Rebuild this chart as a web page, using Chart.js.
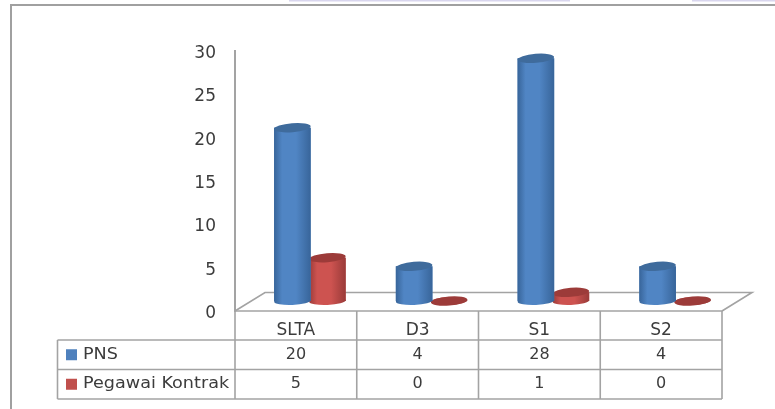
<!DOCTYPE html>
<html>
<head>
<meta charset="utf-8">
<title>PNS dan Pegawai Kontrak</title>
<script src="https://cdn.jsdelivr.net/npm/chart.js@4"></script>
<style>
	html, body { margin: 0; padding: 0; background: #fff; overflow: hidden; }
	canvas { display: block; filter: blur(0.4px); }
</style>
</head>
<body>
<canvas id="myChart" width="775" height="409"></canvas>
<script>
var categories = ['SLTA', 'D3', 'S1', 'S2'];
var pnsValues = [20, 4, 28, 4];
var kontrakValues = [5, 0, 1, 0];
var seriesNames = ['PNS', 'Pegawai Kontrak'];

var lineColor = '#a3a3a3';
var textColor = '#3c3c3c';
var fontName = '"DejaVu Sans", sans-serif';
var shades = [
	{ edge: '#38659a', mid: '#5085c4', top: '#3f6b9c', flat: '#4f81bd' },
	{ edge: '#9a3b39', mid: '#cd5350', top: '#9c3b39', flat: '#c0504d' }
];

function line(ctx, x1, y1, x2, y2)
{
	ctx.beginPath();
	ctx.moveTo(x1, y1);
	ctx.lineTo(x2, y2);
	ctx.stroke();
}

// the page border and floor of the 3d plot
var backdrop = {
	id: 'backdrop',
	beforeDatasetsDraw: function(chart) {
		var ctx = chart.ctx, a = chart.chartArea;
		ctx.save();
		ctx.fillStyle = '#d9d6ee';
		ctx.fillRect(289, 0, 281, 1.5);
		ctx.fillRect(692, 0, 83, 1.5);
		ctx.strokeStyle = '#a0a0a0';
		ctx.lineWidth = 2;
		line(ctx, 10, 5, 775, 5);
		line(ctx, 11, 5, 11, 409);
		ctx.strokeStyle = lineColor;
		ctx.lineWidth = 1.6;
		ctx.beginPath();
		ctx.moveTo(a.left, a.bottom);
		ctx.lineTo(a.left + 30, a.bottom - 18.5);
		ctx.lineTo(a.right + 30, a.bottom - 18.5);
		ctx.lineTo(a.right, a.bottom);
		ctx.stroke();
		ctx.restore();
		// bars stand on the floor, so shift them back into the depth
		ctx.save();
		ctx.translate(14, -10);
	},
	afterDatasetDraw: function(chart, args) {
		var ctx = chart.ctx, s = shades[args.index];
		args.meta.data.forEach(function(bar) {
			var left = bar.x - bar.width / 2, right = bar.x + bar.width / 2;
			var g = ctx.createLinearGradient(left, 0, right, 0);
			g.addColorStop(0, s.edge);
			g.addColorStop(0.22, s.mid);
			g.addColorStop(0.6, s.mid);
			g.addColorStop(1, s.edge);
			ctx.fillStyle = g;
			ctx.beginPath();
			ctx.ellipse(bar.x, bar.base, bar.width / 2, 4, -0.04, 0, Math.PI * 2);
			ctx.fill();
			ctx.fillRect(left, bar.y, bar.width, bar.base - bar.y);
			ctx.fillStyle = s.top;
			ctx.beginPath();
			ctx.ellipse(bar.x, bar.y, bar.width / 2, 4.5, -0.08, 0, Math.PI * 2);
			ctx.fill();
		});
	},
	afterDatasetsDraw: function(chart) {
		chart.ctx.restore();
	}
};

// data table under the plot, the x axis gives the column positions
var dataTable = {
	id: 'dataTable',
	afterDraw: function(chart) {
		var ctx = chart.ctx, a = chart.chartArea, x = chart.scales.x;
		var rows = [340, 369.5, 399];
		var tableLeft = 57.5;
		var step = (a.right - a.left) / categories.length;
		var i;
		ctx.save();
		ctx.strokeStyle = lineColor;
		ctx.lineWidth = 1.6;
		line(ctx, a.left, a.bottom, a.right, a.bottom);
		rows.forEach(function(y) { line(ctx, tableLeft, y, a.right, y); });
		line(ctx, tableLeft, rows[0], tableLeft, rows[2]);
		for (i = 0; i <= categories.length; i++) {
			line(ctx, a.left + step * i, a.bottom, a.left + step * i, rows[2]);
		}
		ctx.font = '16px ' + fontName;
		ctx.fillStyle = textColor;
		ctx.textBaseline = 'middle';
		[pnsValues, kontrakValues].forEach(function(values, r) {
			var mid = (rows[r] + rows[r + 1]) / 2;
			ctx.textAlign = 'left';
			ctx.fillStyle = shades[r].flat;
			ctx.fillRect(66, mid - 5.5, 11, 11);
			ctx.fillStyle = textColor;
			// names are a little wider in the picture than the font
			ctx.save();
			ctx.translate(83, mid);
			ctx.scale(1.1, 1);
			ctx.fillText(seriesNames[r], 0, 0);
			ctx.restore();
			ctx.textAlign = 'center';
			values.forEach(function(v, c) {
				ctx.fillText(String(v), x.getPixelForTick(c), mid);
			});
		});
		ctx.restore();
	}
};

var ctx = document.getElementById('myChart').getContext('2d');
var myChart = new Chart(ctx, {
	type: 'bar',
	data: {
		labels: categories,
		datasets: [{
			label: seriesNames[0],
			data: pnsValues,
			backgroundColor: shades[0].flat,
			clip: false
		}, {
			label: seriesNames[1],
			data: kontrakValues,
			backgroundColor: shades[1].flat,
			clip: false
		}]
	},
	options: {
		responsive: false,
		animation: false,
		categoryPercentage: 0.575,
		barPercentage: 1.045,
		layout: { padding: { top: 51, right: 53, left: 0, bottom: 0 } },
		plugins: {
			legend: { display: false },
			title: { display: false },
			tooltip: { enabled: false }
		},
		scales: {
			x: {
				grid: { display: false, drawTicks: false },
				border: { display: false },
				ticks: {
					color: textColor,
					font: { family: fontName, size: 17 },
					padding: 9,
					maxRotation: 0,
					autoSkip: false
				},
				afterFit: function(scale) { scale.height = 98; }
			},
			y: {
				min: 0,
				max: 30,
				grid: { display: false, drawTicks: false },
				border: { color: lineColor, width: 2 },
				ticks: {
					stepSize: 5,
					color: textColor,
					font: { family: fontName, size: 17 },
					padding: 19,
					labelOffset: 2.5
				},
				afterFit: function(scale) { scale.width = 235; }
			}
		}
	},
	plugins: [backdrop, dataTable]
});
</script>
</body>
</html>
